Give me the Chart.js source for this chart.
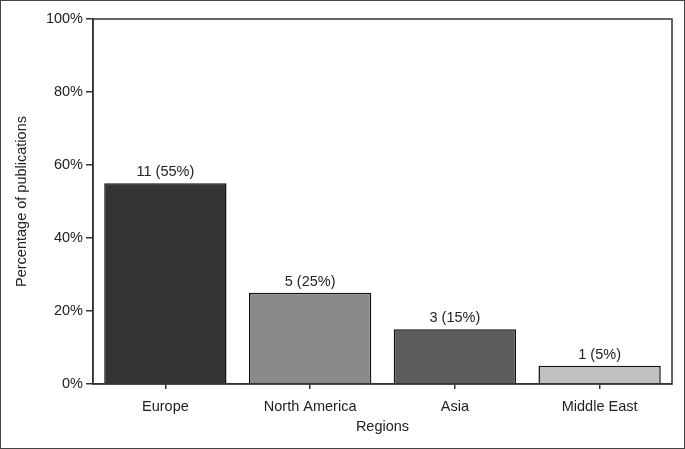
<!DOCTYPE html>
<html lang="en">
<head>
    <meta charset="UTF-8">
    <title>Regions</title>
    <style>
        body {
            margin: 0;
            padding: 0;
            background: #fff;
        }
        .frame {
            width: 685px;
            height: 449px;
            box-sizing: border-box;
            border: 1px solid #444;
            background: #fff;
        }
        canvas {
            display: block;
        }
    </style>
    <script src="https://cdn.jsdelivr.net/npm/chart.js"></script>
</head>
<body>
    <div class="frame">
        <canvas id="regionsChart" width="683" height="447"></canvas>
    </div>
    <script>
        const regions = ['Europe', 'North America', 'Asia', 'Middle East'];
        const counts = [11, 5, 3, 1];
        const percents = [55, 25, 15, 5];
        const barColors = ['#333333', '#8a8a8a', '#5c5c5c', '#c0c0c0'];
        const yTicks = [0, 20, 40, 60, 80, 100];

        const fontFamily = '"Liberation Sans", Arial, sans-serif';
        const fontSize = 14.5;

        // labels above the bars and the box round the plot area
        const extras = {
            id: 'extras',
            afterDatasetsDraw(chart) {
                const ctx = chart.ctx;
                const meta = chart.getDatasetMeta(0);
                ctx.save();
                ctx.font = fontSize + 'px ' + fontFamily;
                ctx.fillStyle = '#222';
                ctx.textAlign = 'center';
                ctx.textBaseline = 'bottom';
                meta.data.forEach((bar, i) => {
                    ctx.fillText(counts[i] + ' (' + percents[i] + '%)', bar.x, bar.y - 4);
                });
                const a = chart.chartArea;
                ctx.strokeStyle = '#333';
                ctx.lineWidth = 1.5;
                ctx.strokeRect(a.left, a.top, a.right - a.left, a.bottom - a.top);
                ctx.restore();
            }
        };

        new Chart(document.getElementById('regionsChart'), {
            type: 'bar',
            data: {
                labels: regions,
                datasets: [{
                    data: percents,
                    backgroundColor: barColors,
                    borderColor: '#111',
                    borderWidth: 1.5,
                    barPercentage: 0.845,
                    categoryPercentage: 1
                }]
            },
            options: {
                responsive: false,
                animation: false,
                layout: {
                    padding: { left: 0, top: 18, right: 12, bottom: 0 }
                },
                plugins: {
                    legend: { display: false },
                    tooltip: { enabled: false }
                },
                scales: {
                    x: {
                        offset: true,
                        grid: {
                            offset: false,
                            drawOnChartArea: false,
                            drawTicks: true,
                            tickLength: 5,
                            color: '#333',
                            lineWidth: 1.5
                        },
                        border: { display: true, color: '#333', width: 1.5 },
                        ticks: {
                            color: '#222',
                            padding: 9,
                            font: { family: fontFamily, size: fontSize },
                            maxRotation: 0
                        },
                        title: {
                            display: true,
                            text: 'Regions',
                            color: '#222',
                            font: { family: fontFamily, size: fontSize },
                            padding: { top: 0, bottom: 12 }
                        },
                        afterFit(scale) {
                            scale.height = 64;
                        }
                    },
                    y: {
                        min: 0,
                        max: 100,
                        afterBuildTicks(scale) {
                            scale.ticks = yTicks.map(v => ({ value: v }));
                        },
                        grid: {
                            drawOnChartArea: false,
                            drawTicks: true,
                            tickLength: 7,
                            color: '#333',
                            lineWidth: 1.5
                        },
                        border: { display: true, color: '#333', width: 1.5 },
                        ticks: {
                            color: '#222',
                            padding: 3,
                            font: { family: fontFamily, size: fontSize },
                            callback: v => v + '%'
                        },
                        title: {
                            display: true,
                            text: 'Percentage of publications',
                            color: '#222',
                            font: { family: fontFamily, size: fontSize },
                            padding: { top: 12, bottom: 0 }
                        },
                        afterFit(scale) {
                            scale.width = 92;
                        }
                    }
                }
            },
            plugins: [extras]
        });
    </script>
</body>
</html>
